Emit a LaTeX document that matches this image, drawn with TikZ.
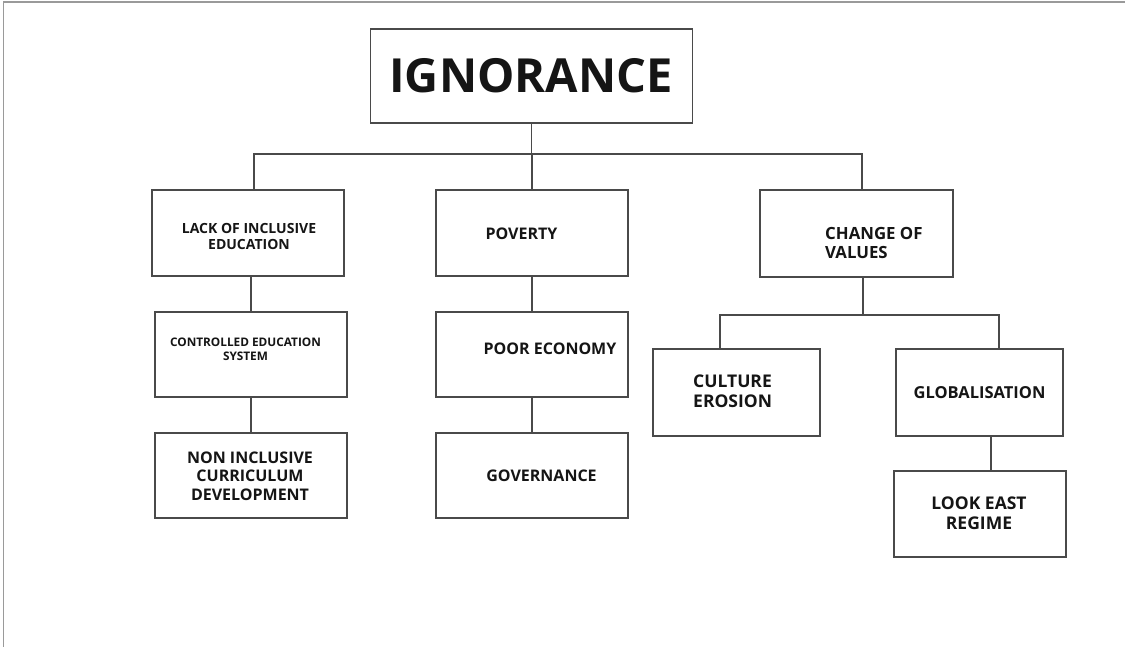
\documentclass[tikz,border=0pt]{standalone}
\usepackage{fontspec}
\setmainfont{Open Sans}[BoldFont={* Bold}]
\usetikzlibrary{calc}
\definecolor{ln}{HTML}{4A4A4A}
\definecolor{frame}{HTML}{9A9A9A}
\definecolor{tx}{HTML}{151515}
\tikzset{
  box/.style={draw=ln, line width=1.1bp, rectangle, inner sep=0pt, anchor=center},
  conn/.style={draw=ln, line width=1.1bp},
  lbl/.style={inner sep=0pt, text=tx, font=\bfseries},
}
\newcommand{\fs}[2]{\fontsize{#1bp}{#2bp}\selectfont\bfseries}
\begin{document}
\begin{tikzpicture}[x=1bp,y=-1bp]
\useasboundingbox (0,0) rectangle (1125,647);
\fill[white] (0,0) rectangle (1125,647);
\draw[frame, line width=1.2bp] (3.5,647) -- (3.5,2) -- (1125,2);

% boxes
\node[box, minimum width=322bp, minimum height=94bp] (ign) at (531.5,76) {};
\node[box, minimum width=192bp, minimum height=86bp] (lack) at (248,233) {};
\node[box, minimum width=192bp, minimum height=85bp] (ctrl) at (251,354.5) {};
\node[box, minimum width=192bp, minimum height=85bp] (nonc) at (251,475.5) {};
\node[box, minimum width=192bp, minimum height=86bp] (pov) at (532,233) {};
\node[box, minimum width=192bp, minimum height=85bp] (poor) at (532,354.5) {};
\node[box, minimum width=192bp, minimum height=85bp] (gov) at (532,475.5) {};
\node[box, minimum width=193bp, minimum height=87bp] (chg) at (856.5,233.5) {};
\node[box, minimum width=167bp, minimum height=87bp] (cult) at (736.5,392.5) {};
\node[box, minimum width=167bp, minimum height=87bp] (glob) at (979.5,392.5) {};
\node[box, minimum width=172bp, minimum height=86bp] (look) at (980,514) {};

% texts
\node[lbl, font=\fs{47}{52}] (ignt) at (531,75.5) {IGNORANCE};
\node[lbl, align=center, font=\fs{14}{16}] (lackt) at (249,236) {LACK OF INCLUSIVE\\EDUCATION};
\node[lbl, align=center, font=\fs{11.8}{14}] (ctrlt) at (245.5,349) {CONTROLLED EDUCATION\\SYSTEM};
\node[lbl, align=center, font=\fs{16}{18.5}] (nonct) at (250,476) {NON INCLUSIVE\\CURRICULUM\\DEVELOPMENT};
\node[lbl, font=\fs{16}{18}] (povt) at (521.5,233.5) {POVERTY};
\node[lbl, font=\fs{16}{18}] (poort) at (550,348.5) {POOR ECONOMY};
\node[lbl, font=\fs{16}{18}] (govt) at (541.5,476) {GOVERNANCE};
\node[lbl, align=left, anchor=west, font=\fs{16.8}{19}] (chgt) at (825,243) {CHANGE OF\\VALUES};
\node[lbl, align=left, anchor=west, font=\fs{17.5}{20}] (cultt) at (693,391.5) {CULTURE\\EROSION};
\node[lbl, font=\fs{16.5}{18}] (globt) at (979.5,392.5) {GLOBALISATION};
\node[lbl, align=center, font=\fs{17.5}{20}] (lookt) at (979,513) {LOOK EAST\\REGIME};

% connectors
\coordinate (j1) at (532,154);
\coordinate (j2) at (863,315);
\draw[conn] (ign.south) -- (ign.south |- j1);
\draw[conn] ([xshift=6bp]lack.north) |- (j1);
\draw[conn] (j1) -| ([xshift=5.5bp]chg.north);
\draw[conn] (j1) -- (pov.north);
\draw[conn] (ctrl.north) -- (ctrl.north |- lack.south);
\draw[conn] (nonc.north) -- (nonc.north |- ctrl.south);
\draw[conn] (pov.south) -- (poor.north);
\draw[conn] (poor.south) -- (gov.north);
\draw[conn] (chg.south -| j2) -- (j2);
\draw[conn] (j2) -| ([xshift=-16.5bp]cult.north);
\draw[conn] (j2) -| ([xshift=19.5bp]glob.north);
\draw[conn] ([xshift=11.5bp]glob.south) -- ([xshift=11.5bp]glob.south |- look.north);
\end{tikzpicture}
\end{document}
